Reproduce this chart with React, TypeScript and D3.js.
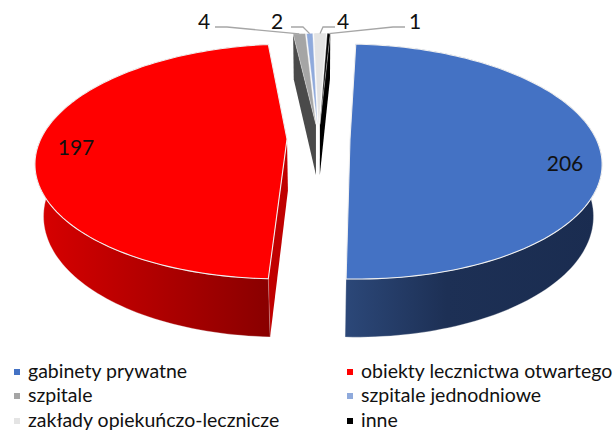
import React from 'react'
import * as d3 from 'd3'

const categories = ['gabinety prywatne', 'obiekty lecznictwa otwartego', 'szpitale', 'szpitale jednodniowe', 'zakłady opiekuńczo-lecznicze', 'inne']
const values = [206, 197, 4, 2, 4, 1]
const topColors = ['#4472c4', '#ff0000', '#a5a5a5', '#8faadc', '#e4e4e4', '#000000']
const faceColors = ['#2f5597', '#c00000', '#4a4a4a', '#5b7fc0', '#bdbdbd', '#000000']
// which cut face of a slice the viewer can see
const faceSide = ['', 'start', 'start', '', '', 'end']
const wallStops = [
  { from: '#2c4879', mid: '#1d3055', to: '#1a2c50', x1: 344, x2: 600, off: 0.4 },
  { from: '#d80000', mid: '#b00000', to: '#880000', x1: 37, x2: 273, off: 0.5 },
]
// label position and leader elbow for each slice
const labelPos = [[565, 171], [76, 155], [204, 29], [277, 29], [343, 29], [415, 29]]
const elbows = [null, null, [[215, 27], [227, 27]], [[291, 27], [303, 27]], [[335, 27], [323, 27]], [[405, 27], [393, 27]]]
const legendX = [14, 347]
const legendY = [378, 402, 427]

const width = 616
const height = 432
const startAngle = (3 * Math.PI) / 180
const explode = 0.128
const cx = 318.5
const cy = 138.5
const A = 246
const B = 113
const K = 0.19
const D = 53
const shrink = 0.03

// disc coordinates -> screen, with a little perspective; h goes down the side wall
const project = (u: number, v: number, h = 0) => {
  const w = 1 - K * v + (shrink * h) / D
  return [cx + (A * u) / w, cy + (B * v + h) / w]
}

export default function App() {
  const arcs = d3.pie<number>().sort(null).startAngle(startAngle).endAngle(startAngle + 2 * Math.PI)(values)
  const line = d3.line()

  const slices = arcs.map((a, i) => {
    const mid = (a.startAngle + a.endAngle) / 2
    const ox = Math.sin(mid) * explode
    const oy = -Math.cos(mid) * explode
    const pt = (t: number, h = 0) => project(ox + Math.sin(t), oy - Math.cos(t), h)
    const apex = (h = 0) => project(ox, oy, h)
    const ts = d3.range(0, 121).map(k => a.startAngle + ((a.endAngle - a.startAngle) * k) / 120)
    const rim = ts.map(t => pt(t))
    const rimLow = ts.map(t => pt(t, D))
    const edge = faceSide[i] === 'start' ? a.startAngle : a.endAngle
    return {
      top: line([apex(), ...rim])! + 'Z',
      wall: line([...rim, ...rimLow.slice().reverse()])! + 'Z',
      face: line([apex(), pt(edge), pt(edge, D), apex(D)])! + 'Z',
      tip: pt(mid),
    }
  })

  // back slices first, the two big ones over them
  const order = [2, 3, 4, 5, 1, 0]

  return (
    <svg width={width} height={height} style={{ position: 'absolute', left: 0, top: 0, background: '#fff', fontFamily: 'Lato, sans-serif' }}>
      <defs>
        {wallStops.map((s, i) => (
          <linearGradient key={i} id={`wall${i}`} gradientUnits="userSpaceOnUse" x1={s.x1} x2={s.x2} y1={0} y2={0}>
            <stop offset="0" stopColor={s.from} />
            <stop offset={s.off} stopColor={s.mid} />
            <stop offset="1" stopColor={s.to} />
          </linearGradient>
        ))}
      </defs>
      {order.map(i => (faceSide[i] ? <path key={i} d={slices[i].face} fill={faceColors[i]} /> : null))}
      {[1, 0].map(i => (
        <path key={i} d={slices[i].wall} fill={`url(#wall${i})`} stroke="#eee" strokeWidth={0.3} />
      ))}
      {order.map(i => (
        <path key={i} d={slices[i].top} fill={topColors[i]} stroke="#f0f0f0" strokeWidth={i < 2 ? 1.1 : 0.4} />
      ))}
      {slices.map((s, i) => {
        const e = elbows[i]
        if (!e) return null
        return <path key={i} d={line([e[0] as [number, number], e[1] as [number, number], s.tip as [number, number]])!} fill="none" stroke="#a6a6a6" strokeWidth={1.3} />
      })}
      {values.map((v, i) => (
        <text key={i} x={labelPos[i][0]} y={labelPos[i][1]} textAnchor="middle" fontSize={21} fill="#111">{v}</text>
      ))}
      {categories.map((c, i) => {
        const x = legendX[i % 2]
        const y = legendY[Math.floor(i / 2)]
        return (
          <g key={c}>
            <rect x={x} y={y - 9} width={6} height={6} fill={topColors[i]} />
            <text x={x + 14} y={y} fontSize={19.5} fill="#111">{c}</text>
          </g>
        )
      })}
    </svg>
  )
}
